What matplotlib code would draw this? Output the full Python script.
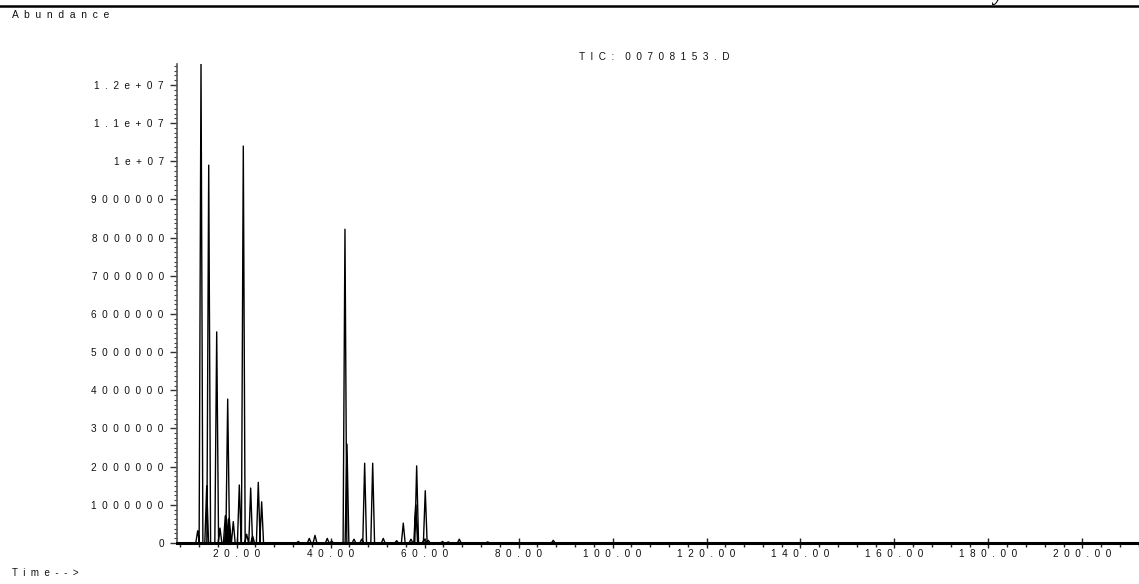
import numpy as np
import matplotlib
matplotlib.use("Agg")
import matplotlib.pyplot as plt
from matplotlib.lines import Line2D
from matplotlib.ticker import MultipleLocator

plt.rcParams['font.family'] = ['Liberation Sans', 'DejaVu Sans']

# peaks: retention time (min) and abundance
peak_rt = [11.70, 12.41, 13.62, 14.05, 15.75, 16.45, 17.58, 17.88, 18.09, 18.43,
           19.28, 20.56, 21.41, 22.13, 22.98, 23.41, 24.60, 25.32, 33.11, 35.45,
           36.67, 39.28, 40.22, 43.05, 43.48, 44.97, 46.61, 47.24, 48.95, 51.20,
           54.05, 55.46, 57.10, 58.10, 58.31, 59.93, 60.14, 60.78, 63.80, 65.04,
           67.38, 73.42, 87.38]
peak_abund = [0.32e6, 12.6e6, 1.49e6, 9.9e6, 5.53e6, 0.39e6, 0.71e6, 0.62e6, 3.77e6, 0.65e6,
              0.56e6, 1.52e6, 10.4e6, 0.23e6, 1.44e6, 0.18e6, 1.59e6, 1.08e6, 0.04e6, 0.12e6,
              0.2e6, 0.12e6, 0.05e6, 8.22e6, 2.59e6, 0.1e6, 0.1e6, 2.09e6, 2.09e6, 0.12e6,
              0.06e6, 0.52e6, 0.1e6, 1.0e6, 2.02e6, 0.1e6, 1.37e6, 0.07e6, 0.04e6, 0.03e6,
              0.1e6, 0.03e6, 0.07e6]

x_ticks = [20, 40, 60, 80, 100, 120, 140, 160, 180, 200]
y_ticks = [0, 1e6, 2e6, 3e6, 4e6, 5e6, 6e6, 7e6, 8e6, 9e6, 1e7, 1.1e7, 1.2e7]
file_name = "00708153.D"


def spaced(s):
    return '  '.join(s)


def ylab(v):
    if v == 0:
        return '0'
    if v < 1e7:
        return spaced(str(int(v)))
    return spaced('%g' % v)


# each peak drawn as a narrow spike on the baseline
hw = 0.4
rt = np.array(peak_rt)
ab = np.array(peak_abund)
tx = np.column_stack([rt - hw, rt, rt + hw]).ravel()
ty = np.column_stack([np.zeros_like(ab), ab, np.zeros_like(ab)]).ravel()

fig = plt.figure(figsize=(11.39, 5.84), dpi=100)
ax = fig.add_axes([177 / 1139, 41 / 584, 962 / 1139, 479 / 584])
ax.plot(tx, ty, color='black', lw=1.0)

ax.set_xlim(7.3, 212.05)
ax.set_ylim(0, 12.55e6)

for s in ['top', 'right']:
    ax.spines[s].set_visible(False)
ax.spines['bottom'].set_linewidth(2.2)
ax.spines['bottom'].set_color('black')
ax.spines['left'].set_linewidth(1.2)
ax.spines['left'].set_color('#555555')

ax.set_xticks(x_ticks, [spaced('%.2f' % v) for v in x_ticks])
ax.xaxis.set_minor_locator(MultipleLocator(4))
ax.set_yticks(y_ticks, [ylab(v) for v in y_ticks])
ax.yaxis.set_minor_locator(MultipleLocator(125000))

ax.tick_params(axis='x', which='major', direction='inout', length=7, width=1,
               color='#222222', labelsize=7.2, labelcolor='#111111', pad=1)
ax.tick_params(axis='x', which='minor', direction='out', length=3, width=1,
               color='#222222')
ax.tick_params(axis='y', which='major', direction='out', length=5, width=1,
               color='#333333', labelsize=7.2, labelcolor='#111111', pad=4.5)
ax.tick_params(axis='y', which='minor', direction='out', length=2.5, width=0.8,
               color='#444444')

fig.text(12 / 1139, 1 - 15 / 584, spaced('Abundance'), fontsize=7.4,
         color='#111111', va='center', ha='left')
fig.text(12 / 1139, 1 - 573 / 584, spaced('Time-->'), fontsize=7.0,
         color='#111111', va='center', ha='left')
fig.text(579 / 1139, 1 - 56.5 / 584, spaced('TIC:') + '    ' + spaced(file_name),
         fontsize=7.2, color='#111111', va='center', ha='left')

# rule and clipped heading at the page top
fig.add_artist(Line2D([0, 1], [1 - 5.5 / 584] * 2, transform=fig.transFigure,
                      color='black', lw=1.8))
fig.text(993 / 1139, 1.0, 'y', fontsize=15, family='Liberation Serif',
         fontweight='bold', fontstyle='italic', va='baseline', ha='left')

fig.savefig('out.png', dpi=100)
